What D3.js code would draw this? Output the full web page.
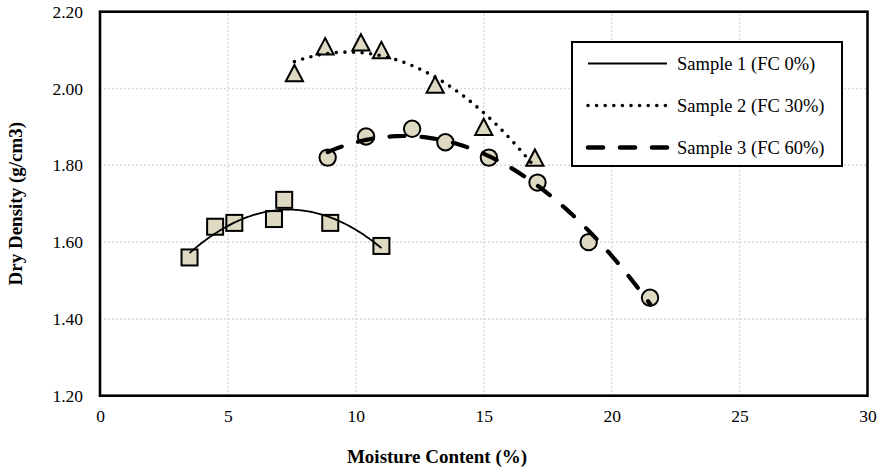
<!DOCTYPE html>
<html>
<head>
<meta charset="utf-8">
<script src="https://cdn.jsdelivr.net/npm/d3@7"></script>
<style>
  body { margin: 0; background: #fff; }
  svg { display: block; font-family: "Liberation Serif", "Times New Roman", serif; }
</style>
</head>
<body>
<div id="chart"></div>
<script>
// values
var seriesNames = ["Sample 1 (FC 0%)", "Sample 2 (FC 30%)", "Sample 3 (FC 60%)"];
var s1Moisture = [3.5, 4.5, 5.25, 6.8, 7.2, 9.0, 11.0];
var s1Density = [1.56, 1.64, 1.65, 1.66, 1.71, 1.65, 1.59];
var s2Moisture = [7.6, 8.8, 10.2, 11.0, 13.1, 15.0, 17.0];
var s2Density = [2.04, 2.11, 2.12, 2.10, 2.01, 1.90, 1.82];
var s3Moisture = [8.9, 10.4, 12.2, 13.5, 15.2, 17.1, 19.1, 21.5];
var s3Density = [1.82, 1.875, 1.895, 1.86, 1.82, 1.755, 1.60, 1.455];
var fitOrders = [2, 2, 2];
var xTicks = [0, 5, 10, 15, 20, 25, 30];
var yTicks = [1.2, 1.4, 1.6, 1.8, 2.0, 2.2];

var W = 883, H = 470;
var margin = {top: 11.7, right: 15.5, bottom: 74.3, left: 100};

var svg = d3.select("#chart").append("svg")
  .attr("width", W)
  .attr("height", H);

var x = d3.scaleLinear().domain([0, 30]).range([margin.left, W - margin.right]);
var y = d3.scaleLinear().domain([1.2, 2.2]).range([H - margin.bottom, margin.top]);

// gridlines (dotted grey)
svg.append("g").selectAll("line")
  .data(xTicks.slice(1, -1))
  .enter().append("line")
  .attr("x1", function (d) { return x(d); })
  .attr("x2", function (d) { return x(d); })
  .attr("y1", y(1.2)).attr("y2", y(2.2))
  .attr("stroke", "#d9d9d9").attr("stroke-width", 1.5)
  .attr("stroke-dasharray", "2 2");

svg.append("g").selectAll("line")
  .data(yTicks.slice(1, -1))
  .enter().append("line")
  .attr("y1", function (d) { return y(d); })
  .attr("y2", function (d) { return y(d); })
  .attr("x1", x(0)).attr("x2", x(30))
  .attr("stroke", "#d9d9d9").attr("stroke-width", 1.5)
  .attr("stroke-dasharray", "2 2");

// axes, labels only
var xAxis = svg.append("g")
  .attr("transform", "translate(0," + y(1.2) + ")")
  .call(d3.axisBottom(x).tickValues(xTicks).tickSize(0).tickPadding(14).tickFormat(d3.format("d")));
var yAxis = svg.append("g")
  .attr("transform", "translate(" + x(0) + ",0)")
  .call(d3.axisLeft(y).tickValues(yTicks).tickSize(0).tickPadding(17).tickFormat(d3.format(".2f")));
[xAxis, yAxis].forEach(function (a) {
  a.select(".domain").remove();
  a.selectAll("text")
    .style("font-family", "Liberation Serif")
    .style("font-size", "17.5px")
    .style("fill", "#000");
});

// plot frame
svg.append("rect")
  .attr("x", x(0)).attr("y", y(2.2))
  .attr("width", x(30) - x(0)).attr("height", y(1.2) - y(2.2))
  .attr("fill", "none").attr("stroke", "#000").attr("stroke-width", 2.6);

// axis titles
svg.append("text")
  .attr("x", 437).attr("y", 463)
  .style("text-anchor", "middle")
  .style("font-weight", "bold")
  .style("font-size", "19px")
  .text("Moisture Content (%)");

svg.append("text")
  .attr("transform", "translate(22," + ((y(1.2) + y(2.2)) / 2) + ") rotate(-90)")
  .style("text-anchor", "middle")
  .style("font-weight", "bold")
  .style("font-size", "19px")
  .text("Dry Density (g/cm3)");

// least squares polynomial fit (like an Excel trendline)
function polyFit(xs, ys, order) {
  var n = order + 1, A = [], i, j, k;
  for (i = 0; i < n; i++) {
    A.push([]);
    for (j = 0; j < n; j++) {
      A[i].push(d3.sum(xs, function (v) { return Math.pow(v, i + j); }));
    }
    A[i].push(d3.sum(xs, function (v, idx) { return Math.pow(v, i) * ys[idx]; }));
  }
  for (i = 0; i < n; i++) {
    var p = i;
    for (k = i + 1; k < n; k++) if (Math.abs(A[k][i]) > Math.abs(A[p][i])) p = k;
    var t = A[i]; A[i] = A[p]; A[p] = t;
    for (k = i + 1; k < n; k++) {
      var f = A[k][i] / A[i][i];
      for (j = i; j <= n; j++) A[k][j] -= f * A[i][j];
    }
  }
  var c = new Array(n);
  for (i = n - 1; i >= 0; i--) {
    var s = A[i][n];
    for (j = i + 1; j < n; j++) s -= A[i][j] * c[j];
    c[i] = s / A[i][i];
  }
  return function (v) {
    var r = 0;
    for (var m = 0; m < n; m++) r += c[m] * Math.pow(v, m);
    return r;
  };
}

var series = [
  {name: seriesNames[0], xs: s1Moisture, ys: s1Density, marker: "square",
    dash: null, width: 1.8, cap: "butt", legendWidth: 2.2},
  {name: seriesNames[1], xs: s2Moisture, ys: s2Density, marker: "triangle",
    dash: "0 8.6", width: 3.6, cap: "round", legendWidth: 3.6},
  {name: seriesNames[2], xs: s3Moisture, ys: s3Density, marker: "circle",
    dash: "15 17", width: 4.2, cap: "round", legendWidth: 4.6}
];

var markerFill = "#ddd9c3";

function drawMarker(g, type, cx, cy) {
  if (type === "square") {
    g.append("rect").attr("x", cx - 8).attr("y", cy - 8)
      .attr("width", 16).attr("height", 16);
  } else if (type === "circle") {
    g.append("circle").attr("cx", cx).attr("cy", cy).attr("r", 8.2);
  } else {
    g.append("path").attr("d", "M" + cx + "," + (cy - 8.2) +
      "L" + (cx + 8.6) + "," + (cy + 8.2) + "L" + (cx - 8.6) + "," + (cy + 8.2) + "Z");
  }
}

// markers first, trendlines drawn over them
var markerLayer = svg.append("g")
  .attr("fill", markerFill).attr("stroke", "#000").attr("stroke-width", 2);
series.forEach(function (s) {
  s.xs.forEach(function (v, i) {
    drawMarker(markerLayer, s.marker, x(v), y(s.ys[i]));
  });
});

var line = d3.line()
  .x(function (d) { return x(d[0]); })
  .y(function (d) { return y(d[1]); })
  .curve(d3.curveLinear);

series.forEach(function (s, si) {
  var fit = polyFit(s.xs, s.ys, fitOrders[si]);
  var x0 = d3.min(s.xs), x1 = d3.max(s.xs);
  var pts = d3.range(0, 101).map(function (k) {
    var v = x0 + (x1 - x0) * k / 100;
    return [v, fit(v)];
  });
  svg.append("path")
    .datum(pts)
    .attr("fill", "none")
    .attr("stroke", "#000")
    .attr("stroke-width", s.width)
    .attr("stroke-linecap", s.cap)
    .attr("stroke-dasharray", s.dash)
    .attr("d", line);
});

// legend
var legend = svg.append("g");
legend.append("rect")
  .attr("x", 572).attr("y", 42)
  .attr("width", 270).attr("height", 124)
  .attr("fill", "#fff").attr("stroke", "#000").attr("stroke-width", 2);

var legendRows = [63.5, 105.5, 147.5];
series.forEach(function (s, i) {
  legend.append("line")
    .attr("x1", 588).attr("x2", 667)
    .attr("y1", legendRows[i]).attr("y2", legendRows[i])
    .attr("stroke", "#000")
    .attr("stroke-width", s.legendWidth)
    .attr("stroke-linecap", s.cap)
    .attr("stroke-dasharray", s.dash);
  legend.append("text")
    .attr("x", 677).attr("y", legendRows[i])
    .attr("dy", "0.34em")
    .style("font-size", "18.5px")
    .text(s.name);
});
</script>
</body>
</html>
